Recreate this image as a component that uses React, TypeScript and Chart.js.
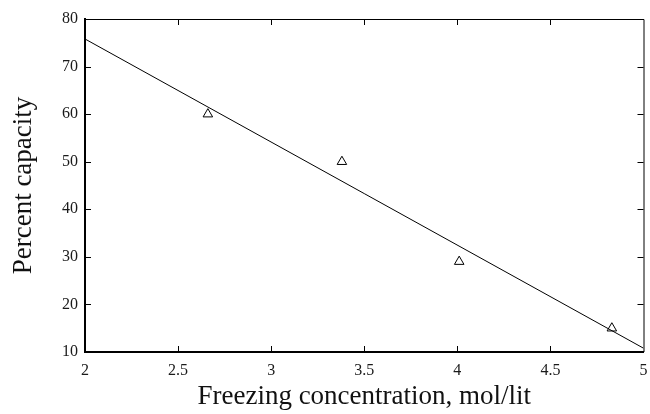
import React, { useEffect, useRef } from "react";
import { Chart, registerables } from "chart.js";

Chart.register(...registerables);

const concentration = [2.66, 3.38, 4.01, 4.83];
const capacity = [60, 50, 29, 15];
const fitConcentration = [2, 5];
const fitCapacity = [75.8, 10.8];
const xTicks = [2, 2.5, 3, 3.5, 4, 4.5, 5];
const yTicks = [10, 20, 30, 40, 50, 60, 70, 80];

const FONT = "'Liberation Serif', 'DejaVu Serif', serif";

const innerTicks = {
  id: "innerTicks",
  afterDraw(chart: any) {
    const { ctx, chartArea, scales } = chart;
    const { left, right, top, bottom } = chartArea;
    const L = 6;
    ctx.save();
    ctx.strokeStyle = "#000";
    ctx.lineWidth = 1;
    ctx.beginPath();
    ctx.moveTo(left, top + 0.5);
    ctx.lineTo(right + 0.5, top + 0.5);
    ctx.lineTo(right + 0.5, bottom);
    ctx.stroke();
    ctx.beginPath();
    xTicks.slice(1, -1).forEach((v) => {
      const px = Math.round(scales.x.getPixelForValue(v)) + 0.5;
      ctx.moveTo(px, bottom);
      ctx.lineTo(px, bottom - L);
      ctx.moveTo(px, top);
      ctx.lineTo(px, top + L);
    });
    yTicks.slice(1, -1).forEach((v) => {
      const py = Math.round(scales.y.getPixelForValue(v)) + 0.5;
      ctx.moveTo(left, py);
      ctx.lineTo(left + L, py);
      ctx.moveTo(right, py);
      ctx.lineTo(right - L, py);
    });
    ctx.stroke();
    ctx.restore();
  },
};

export default function App() {
  const ref = useRef<HTMLCanvasElement>(null);
  useEffect(() => {
    document.body.style.margin = "0";
    const chart = new Chart(ref.current as HTMLCanvasElement, {
      type: "scatter",
      data: {
        datasets: [
          {
            label: "fit",
            data: fitConcentration.map((x, i) => ({ x, y: fitCapacity[i] })),
            showLine: true,
            borderColor: "#000",
            borderWidth: 1,
            pointRadius: 0,
            fill: false,
          },
          {
            label: "data",
            data: concentration.map((x, i) => ({ x, y: capacity[i] })),
            pointStyle: "triangle",
            pointRadius: 5.5,
            pointBackgroundColor: "rgba(255,255,255,0)",
            pointBorderColor: "#000",
            pointBorderWidth: 1,
            showLine: false,
          },
        ],
      },
      options: {
        animation: false,
        responsive: false,
        layout: { padding: { top: 19, right: 6, left: 0, bottom: 0 } },
        plugins: { legend: { display: false }, tooltip: { enabled: false } },
        scales: {
          x: {
            type: "linear",
            min: 2,
            max: 5,
            afterFit: (s: any) => {
              s.height = 62;
              s.paddingLeft = 0;
              s.paddingRight = 0;
            },
            afterBuildTicks: (s: any) => {
              s.ticks = xTicks.map((v) => ({ value: v }));
            },
            grid: { display: true, drawOnChartArea: false, drawTicks: false },
            border: { display: true, color: "#000", width: 2 },
            ticks: {
              padding: 9,
              color: "#1a1a1a",
              font: { family: FONT, size: 16 },
              maxRotation: 0,
              callback: (v: any) => String(v),
            },
            title: {
              display: true,
              text: "Freezing concentration, mol/lit",
              color: "#111",
              font: { family: FONT, size: 27 },
              padding: { top: 0, bottom: 1 },
            },
          },
          y: {
            type: "linear",
            min: 10,
            max: 80,
            afterFit: (s: any) => {
              s.width = 85;
              s.paddingTop = 0;
              s.paddingBottom = 0;
            },
            afterBuildTicks: (s: any) => {
              s.ticks = yTicks.map((v) => ({ value: v }));
            },
            grid: { display: true, drawOnChartArea: false, drawTicks: false },
            border: { display: true, color: "#000", width: 2 },
            ticks: {
              padding: 7,
              color: "#1a1a1a",
              font: { family: FONT, size: 16 },
              callback: (v: any) => String(v),
            },
            title: {
              display: true,
              text: "Percent capacity",
              color: "#111",
              font: { family: FONT, size: 27 },
              padding: { top: 8, bottom: 0 },
            },
          },
        },
      },
      plugins: [innerTicks],
    });
    return () => chart.destroy();
  }, []);
  return (
    <div style={{ width: 650, height: 414 }}>
      <canvas ref={ref} width={650} height={414} />
    </div>
  );
}
